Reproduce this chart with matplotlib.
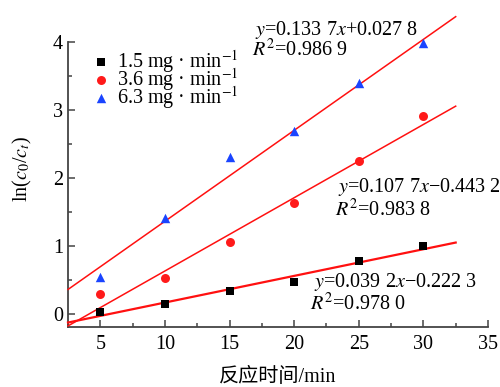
# ln(c0/ct) frente al tiempo de reaccion, tres dosis, con ajustes lineales.
import numpy as np
import matplotlib; matplotlib.use("Agg")
import matplotlib.pyplot as plt
from matplotlib.ticker import MultipleLocator

plt.rcParams["font.family"] = ["Liberation Serif", "Noto Sans CJK SC"]
plt.rcParams["mathtext.fontset"] = "stix"

t = [5, 10, 15, 20, 25, 30]
y15 = [0.03, 0.15, 0.34, 0.47, 0.78, 1.00]
y36 = [0.29, 0.53, 1.06, 1.63, 2.25, 2.91]
y63 = [0.54, 1.41, 2.31, 2.69, 3.40, 3.98]
etiquetas = ["1.5 mg · min$^{-1}$", "3.6 mg · min$^{-1}$", "6.3 mg · min$^{-1}$"]
# pendiente, ordenada, R2 de cada ajuste
ajustes = [(0.0392, -0.2223, "0.978 0"), (0.1077, -0.4432, "0.983 8"), (0.1337, 0.0278, "0.986 9")]
ecuaciones = ["$y$=0.039 2$x$\u22120.222 3", "$y$=0.107 7$x$\u22120.443 2", "$y$=0.133 7$x$+0.027 8"]
XFIT = (2.5, 32.5)

fig = plt.figure(figsize=(5, 3.87), dpi=100)
ax = fig.add_axes([0.136, 0.155, 0.84, 0.8155])
ax.set_xlim(2.5, 35)
ax.set_ylim(-0.19, 4.45)

estilos = [("s", "black", 40), ("o", "#ff1a1a", 42), ("^", "#1a44ff", 46)]
for ys, (mk, col, s), lab in zip([y15, y36, y63], estilos, etiquetas):
    ax.scatter(t, ys, marker=mk, color=col, s=s, label=lab, zorder=4, linewidths=0)

xs = np.array(XFIT)
for (m, b, r2), lw in zip(ajustes, [1.6, 1.1, 1.1]):
    ax.plot(xs, m * xs + b, color="#ff1010", lw=lw, zorder=3, clip_on=False)

fs = 14.5
# posiciones de las ecuaciones (x, y ecuacion, y R2) en coordenadas de datos
pos = [(21.5, 0.47, 0.15), (23.4, 1.87, 1.53), (17.0, 4.18, 3.88)]
for (xe, ye, yr), eq, (m, b, r2) in zip(pos, ecuaciones, ajustes):
    ax.text(xe, ye, eq, fontsize=fs, ha="left", va="center", clip_on=False)
    ax.text(xe - 0.25, yr, "$R^2$=" + r2, fontsize=fs, ha="left", va="center", clip_on=False)

ax.spines["top"].set_visible(False)
ax.spines["right"].set_visible(False)
ax.spines["left"].set_bounds(-0.19, 4)
for sp in ["left", "bottom"]:
    ax.spines[sp].set_color("#444")
    ax.spines[sp].set_linewidth(1.3)

ax.xaxis.set_major_locator(MultipleLocator(5))
ax.xaxis.set_minor_locator(MultipleLocator(2.5))
ax.yaxis.set_major_locator(MultipleLocator(1))
ax.yaxis.set_minor_locator(MultipleLocator(0.5))
ax.set_yticks([0, 1, 2, 3, 4])
ax.tick_params(which="both", direction="in", color="#444", width=1.1, labelsize=fs)
ax.tick_params(which="major", length=5)
ax.tick_params(which="minor", length=3)
ax.tick_params(axis="x", pad=6)

ax.set_xlabel("反应时间/min", fontsize=fs, labelpad=10)
ax.set_ylabel("ln($c_0$/$c_t$)", fontsize=fs, labelpad=14)

ax.legend(loc="upper left", bbox_to_anchor=(0.031, 0.91), frameon=False, fontsize=fs,
          handletextpad=0.2, labelspacing=-0.45, borderaxespad=0, handlelength=1.2)

fig.savefig("out.png", dpi=100)
